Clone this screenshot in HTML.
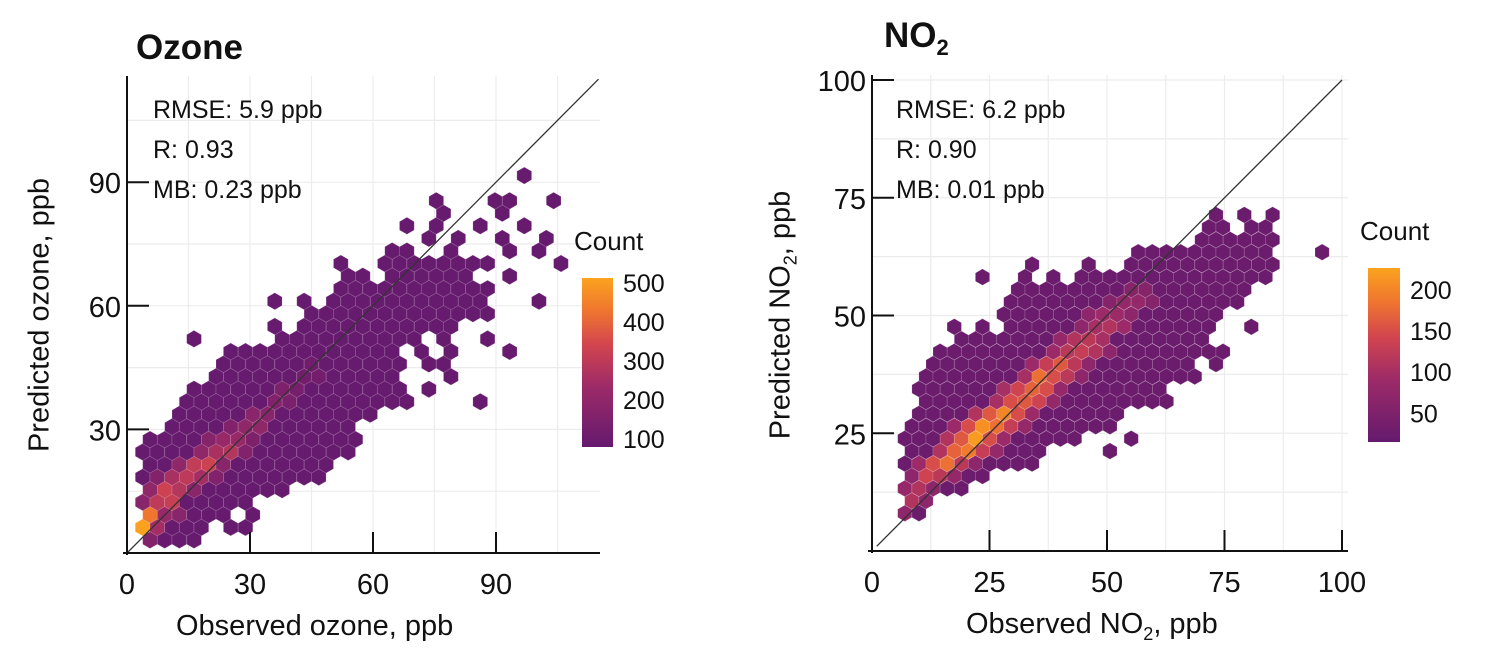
<!DOCTYPE html>
<html><head><meta charset="utf-8"><style>
html,body{margin:0;padding:0;background:#fff;}
svg{display:block;font-family:"Liberation Sans",sans-serif;}
</style></head><body>
<svg id="chart" width="1503" height="666" viewBox="0 0 1503 666" xmlns="http://www.w3.org/2000/svg">
<defs>
<linearGradient id="gradL" x1="0" y1="1" x2="0" y2="0">
<stop offset="0" stop-color="#651a6e"/><stop offset="0.35" stop-color="#9b2a68"/><stop offset="0.6" stop-color="#d1444f"/><stop offset="0.8" stop-color="#ef7430"/><stop offset="1" stop-color="#fba31e"/>
</linearGradient>
</defs>
<g id="left"></g>
<g id="right"></g>
</svg>
<script>
// ---------- Ozone data ----------
const ozoneRows = [
[0,[[1,4]]],[1,[[0,4],[6,7]]],[2,[[1,6],[8,8]]],[3,[[0,7]]],[4,[[1,10]]],[5,[[0,12]]],
[6,[[1,13]]],[7,[[0,14]]],[8,[[1,15]]],[9,[[2,14]]],[10,[[3,16]]],[11,[[3,18],[23,23]]],
[12,[[4,18],[20,20]]],[13,[[5,17],[21,21]]],[14,[[6,18],[20,21]]],[15,[[6,17],[19,19],[21,21],[25,25]]],
[16,[[4,4],[10,19],[21,21],[24,24]]],[17,[[9,9],[11,21]]],[18,[[12,24]]],[19,[[9,9],[11,11],[13,23],[27,27]]],
[20,[[14,24]]],[21,[[14,15],[17,22],[25,25]]],[22,[[14,14],[17,24],[29,29]]],[23,[[17,18],[21,21],[25,25],[27,27]]],
[24,[[20,20],[22,22],[25,25],[28,28]]],[25,[[18,18],[20,20],[23,23],[26,26]]],[26,[[21,21],[25,25]]],
[27,[[20,20],[24,24],[25,25],[28,28]]],[29,[[26,26]]]
];
const ozoneHot = [
[1,0,510],[2,1,430],[1,1,250],[0,1,160],[3,0,180],[3,1,300],[3,2,320],[2,2,220],[2,3,180],
[4,1,200],[4,2,330],[4,3,280],[4,4,180],[5,1,160],[5,2,260],[5,3,300],[5,4,250],[5,5,160],
[6,3,200],[6,4,310],[6,5,330],[6,6,180],[7,4,200],[7,5,260],[7,6,280],[7,7,160],
[8,5,170],[8,6,220],[8,7,220],[8,8,150],[9,6,160],[9,7,200],[9,8,200],[10,8,180],[10,9,180],
[11,9,160],[11,10,140],[12,10,150],[12,11,130],[13,11,120],[13,12,120],[14,12,110]
];
const ozoneDefault = 85;
const ozoneCbMin = 80, ozoneCbMax = 513;
const ozoneTicks = [0,30,60,90];
const ozoneCbTicks = [100,200,300,400,500];
const ozoneStats = ["RMSE: 5.9 ppb","R: 0.93","MB: 0.23 ppb"];

// ---------- NO2 data ----------
const no2Rows = [
[0,[[1,2]]],[1,[[1,2]]],[2,[[1,5]]],[3,[[1,6]]],[4,[[1,10]]],[5,[[1,10],[15,15]]],
[6,[[1,13],[17,17]]],[7,[[1,15]]],[8,[[2,16]]],[9,[[2,19]]],[10,[[2,19]]],[11,[[2,21]]],
[12,[[3,21],[23,23]]],[13,[[3,23]]],[14,[[5,22]]],[15,[[4,4],[6,6],[8,22],[25,25]]],
[16,[[8,23]]],[17,[[8,24]]],[18,[[9,25]]],[19,[[6,6],[9,9],[11,11],[13,26]]],
[20,[[10,10],[14,14],[17,27]]],[21,[[17,26],[30,30]]],[22,[[22,27]]],[23,[[22,23],[25,26]]],
[24,[[23,23],[25,25],[27,27]]]
];
const no2Hot = [
[0,1,70],[1,1,110],[1,2,70],[2,1,80],[2,2,110],[2,3,70],[3,1,70],[3,2,140],[3,3,120],[3,4,80],
[4,2,90],[4,3,150],[4,4,180],[4,5,120],[4,6,70],[5,3,110],[5,4,170],[5,5,190],[5,6,130],[5,7,80],
[6,4,110],[6,5,160],[6,6,220],[6,7,150],[6,8,90],[7,4,90],[7,5,150],[7,6,210],[7,7,180],[7,8,130],[7,9,80],
[8,6,110],[8,7,160],[8,8,200],[8,9,150],[8,10,90],[9,7,100],[9,8,150],[9,9,160],[9,10,140],[9,11,80],
[10,8,100],[10,9,140],[10,10,170],[10,11,150],[10,12,80],[11,9,100],[11,10,180],[11,11,150],[11,12,120],[11,13,70],
[12,10,90],[12,11,130],[12,12,160],[12,13,120],[12,14,70],[13,11,90],[13,12,120],[13,13,130],[13,14,110],[13,15,70],
[14,12,80],[14,13,110],[14,14,120],[14,15,100],[15,13,70],[15,14,100],[15,15,110],[15,16,90],
[16,14,70],[16,15,90],[16,16,90],[16,17,70],[17,15,60],[17,16,80],[17,17,80],[17,18,60],[18,17,60],[18,18,60]
];
const no2Default = 25;
const no2CbMin = 15, no2CbMax = 227;
const no2Ticks = [0,25,50,75,100];
const no2CbTicks = [50,100,150,200];
const no2Stats = ["RMSE: 6.2 ppb","R: 0.90","MB: 0.01 ppb"];

const NS = "http://www.w3.org/2000/svg";
function mk(tag, attrs, parent){const e=document.createElementNS(NS,tag);for(const k in attrs)e.setAttribute(k,attrs[k]);parent.appendChild(e);return e;}
const stops=[[0,[101,26,110]],[0.35,[155,42,104]],[0.6,[209,68,79]],[0.8,[239,116,48]],[1,[251,163,30]]];
function cmap(t){t=Math.max(0,Math.min(1,t));for(let i=1;i<stops.length;i++){if(t<=stops[i][0]){const a=stops[i-1],b=stops[i];const f=(t-a[0])/(b[0]-a[0]);const c=a[1].map((v,j)=>Math.round(v+(b[1][j]-v)*f));return `rgb(${c[0]},${c[1]},${c[2]})`;}}return "rgb(251,163,30)";}

function panel(g, cfg){
  const xS=v=>cfg.ox+v*cfg.kx, yS=v=>cfg.oy-v*cfg.ky;
  for(const v of cfg.grid){
    const gx=mk("line",{x1:xS(v),y1:cfg.top,x2:xS(v),y2:cfg.oy,stroke:"#ececec","stroke-width":1.2},g);
    
    
    const gy=mk("line",{x1:cfg.ox,y1:yS(v),x2:cfg.right,y2:yS(v),stroke:"#ececec","stroke-width":1.2},g);
    
    
  }
  const hot={};cfg.hot.forEach(h=>hot[h[0]+"_"+h[1]]=h[2]);
  const R=cfg.hw/Math.sqrt(3);
  cfg.rows.forEach(([r,ranges])=>{
    ranges.forEach(([a,b])=>{
      for(let c=a;c<=b;c++){
        const xv=(r%2===0?cfg.x0e:cfg.x0o)+c*cfg.dx, yv=cfg.y0+r*cfg.dy;
        const cx=xS(xv), cy=yS(yv);
        const cnt=hot[r+"_"+c]!==undefined?hot[r+"_"+c]:cfg.def;
        let pts=[];for(let i=0;i<6;i++){const ang=Math.PI/180*(60*i-90);pts.push((cx+R*Math.cos(ang)).toFixed(1)+","+(cy+R*Math.sin(ang)).toFixed(1));}
        const p=mk("polygon",{points:pts.join(" "),fill:cmap((cnt-cfg.cmin)/(cfg.cmax-cfg.cmin)),stroke:"rgba(255,255,255,0.18)","stroke-width":0.8},g);
        
        
      }
    });
  });
  const d=mk("line",{x1:xS(cfg.dStart),y1:yS(cfg.dStart),x2:xS(cfg.dEnd),y2:yS(cfg.dEnd),stroke:"#333","stroke-width":1.3},g);
  
  
  const ya=mk("line",{x1:cfg.ox,y1:cfg.top,x2:cfg.ox,y2:cfg.oy+2,stroke:"#111","stroke-width":2},g);
  
  
  const xa=mk("line",{x1:cfg.ox-4,y1:cfg.oy,x2:cfg.right,y2:cfg.oy,stroke:"#111","stroke-width":2},g);
  
  
  cfg.ticks.forEach(v=>{
    if(v>0){
      const tx=mk("line",{x1:xS(v),y1:cfg.oy,x2:xS(v),y2:cfg.oy-21,stroke:"#111","stroke-width":2},g);
      
      
      const ty=mk("line",{x1:cfg.ox,y1:yS(v),x2:cfg.ox+22,y2:yS(v),stroke:"#111","stroke-width":2},g);
      
      
      const yl=mk("text",{x:cfg.ox-6,y:yS(v)+11,"font-size":29,"text-anchor":"end",fill:"#111"},g);
      yl.textContent=v;
      
      
    }
    const xl=mk("text",{x:xS(v),y:cfg.oy+41,"font-size":29,"text-anchor":"middle",fill:"#111"},g);
    xl.textContent=v;
    
    
  });
  cfg.stats.forEach((s,i)=>{
    const t=mk("text",{x:cfg.sx,y:118+i*40,"font-size":25,fill:"#111"},g);
    t.textContent=s;
    
    
  });
  const cbH=cfg.cbBot-cfg.cbTop;
  const cb=mk("rect",{x:cfg.cbx,y:cfg.cbTop,width:cfg.cbw,height:cbH,fill:"url(#gradL)"},g);
  
  
  const cy2=v=>cfg.cbBot-(v-cfg.cmin)/(cfg.cmax-cfg.cmin)*cbH;
  cfg.cbTicks.forEach(v=>{
    const l=mk("text",{x:cfg.cbx+cfg.cbw+10,y:cy2(v)+9,"font-size":25,fill:"#111"},g);
    l.textContent=v;
    
    
  });
  const ct=mk("text",{x:cfg.cbx-8,y:cfg.cbTop-28,"font-size":26,fill:"#111"},g);
  ct.textContent="Count";
  
  
}

panel(document.getElementById("left"),{
  ox:127,oy:553,kx:4.1,ky:4.12,top:76,right:600,grid:[15,30,45,60,75,90,105],
  rows:ozoneRows,hot:ozoneHot,def:ozoneDefault,cmin:ozoneCbMin,cmax:ozoneCbMax,
  x0e:2.03,x0o:3.82,dx:3.58,y0:3.16,dy:3.05,hw:14.7,dStart:0,dEnd:115,
  ticks:ozoneTicks,stats:ozoneStats,sx:153,cbx:582,cbw:31,cbTop:278,cbBot:447,cbTicks:ozoneCbTicks
});
panel(document.getElementById("right"),{
  ox:872,oy:551,kx:4.7,ky:4.71,top:75,right:1348,grid:[12.5,25,37.5,50,62.5,75,87.5,100],
  rows:no2Rows,hot:no2Hot,def:no2Default,cmin:no2CbMin,cmax:no2CbMax,
  x0e:3.97,x0o:5.46,dx:3.01,y0:8.0,dy:2.64,hw:14.2,dStart:1,dEnd:100,
  ticks:no2Ticks,stats:no2Stats,sx:896,cbx:1368,cbw:32,cbTop:268,cbBot:442,cbTicks:no2CbTicks
});
</script>
<div style="position:absolute;left:0;top:0;width:1503px;height:666px;pointer-events:none;font-family:'Liberation Sans',sans-serif;color:#111;">
  <div style="position:absolute;left:136px;top:28px;font-size:35px;font-weight:bold;">Ozone</div>
  <div style="position:absolute;left:884px;top:16px;font-size:35px;font-weight:bold;">NO<sub style="font-size:22px;">2</sub></div>
  <div style="position:absolute;left:176px;top:610px;font-size:29px;">Observed ozone, ppb</div>
  <div style="position:absolute;left:966px;top:608px;font-size:29px;">Observed NO<sub style="font-size:18px;">2</sub>, ppb</div>
  <div style="position:absolute;left:40px;top:315px;width:0;height:0;">
    <div style="position:absolute;transform:translate(-50%,-50%) rotate(-90deg);white-space:nowrap;font-size:29px;">Predicted ozone, ppb</div>
  </div>
  <div style="position:absolute;left:783px;top:315px;width:0;height:0;">
    <div style="position:absolute;transform:translate(-50%,-50%) rotate(-90deg);white-space:nowrap;font-size:29px;">Predicted NO<sub style="font-size:18px;">2</sub>, ppb</div>
  </div>
</div>
</body></html>
